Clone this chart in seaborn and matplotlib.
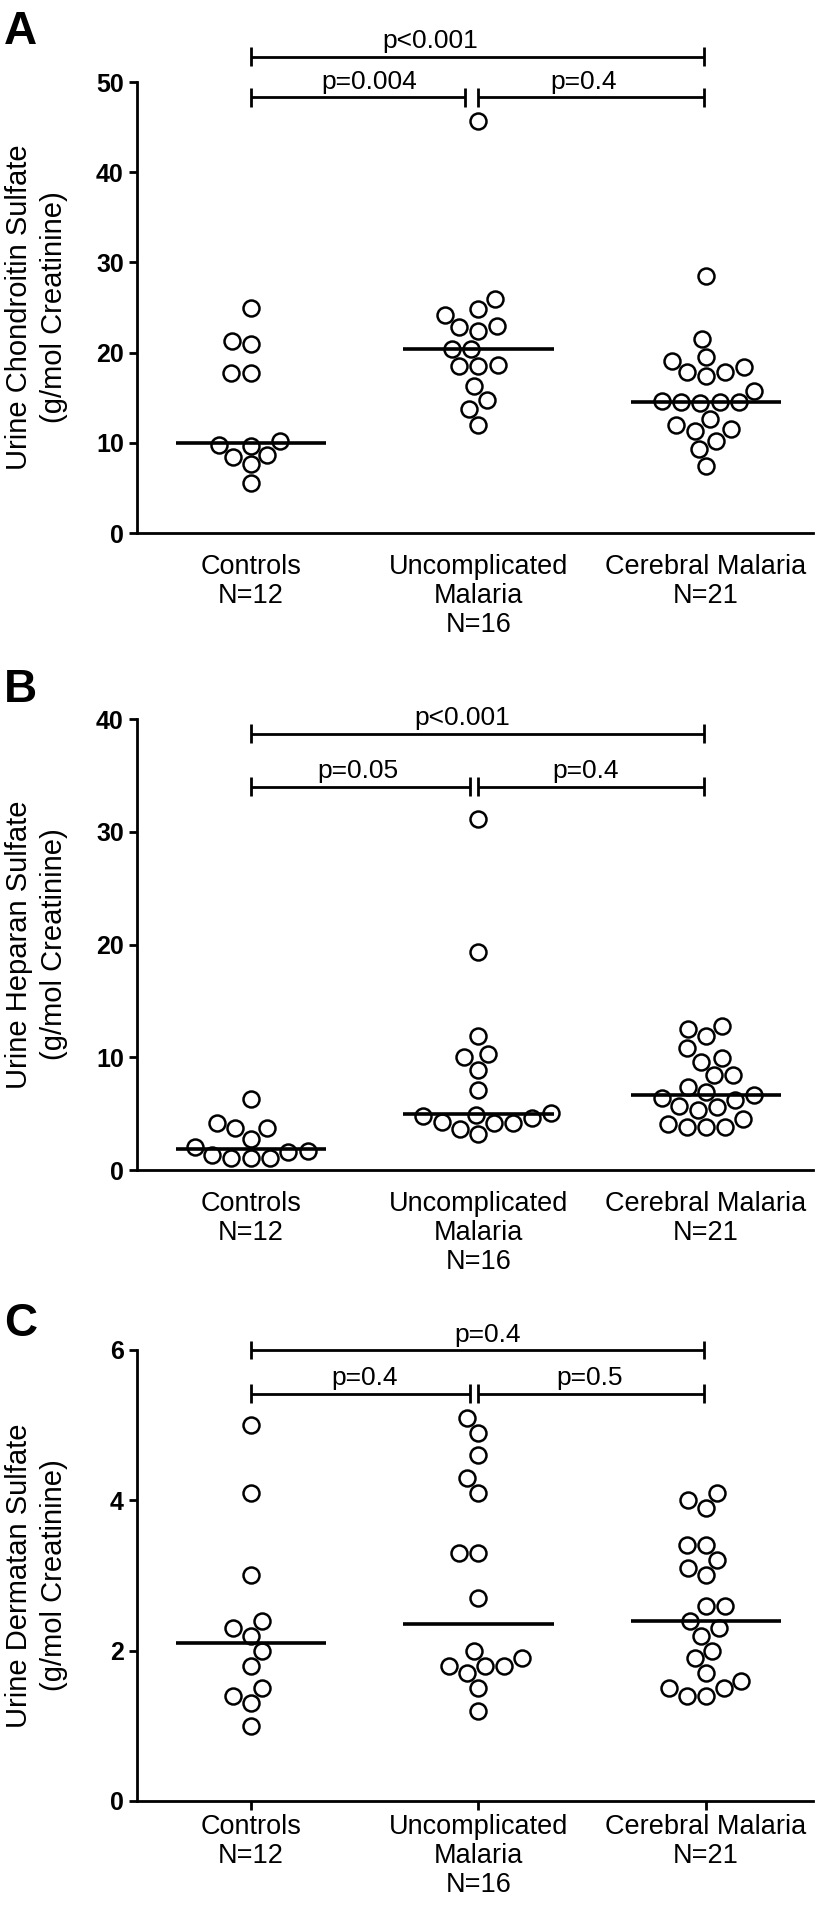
import numpy as np
import pandas as pd
import seaborn as sns
import matplotlib.pyplot as plt

sns.set_style("ticks")
plt.rcParams['font.family'] = ['Liberation Sans', 'DejaVu Sans']
for k in ["text.color", "axes.labelcolor", "xtick.color", "ytick.color", "axes.edgecolor"]:
    plt.rcParams[k] = "black"

groups = ["Controls", "Uncomplicated", "Cerebral Malaria"]
group_labels = ["Controls\nN=12", "Uncomplicated\nMalaria\nN=16", "Cerebral Malaria\nN=21"]

# A: chondroitin sulfate
ctrl_cs = [9.7, 8.7, 7.6, 8.4, 5.5, 9.8, 10.2, 17.7, 17.7, 21.0, 21.3, 25.0]
unc_cs = [45.7, 25.9, 22.8, 22.4, 24.2, 23.0, 24.8, 20.4, 20.4, 18.5, 18.5, 18.6, 16.3, 14.7, 13.8, 12.0]
cm_cs = [28.5, 21.5, 19.1, 18.4, 17.8, 17.4, 17.8, 19.5, 15.8, 14.5, 14.5, 14.6, 14.5, 14.4,
         11.5, 11.3, 12.0, 12.6, 10.2, 9.3, 7.4]

# B: heparan sulfate
ctrl_hs = [6.3, 3.7, 3.7, 4.2, 2.75, 1.6, 1.3, 1.05, 1.7, 2.05, 1.05, 1.05]
unc_hs = [31.1, 19.3, 11.9, 10.3, 10.0, 8.9, 7.1, 4.3, 4.2, 4.2, 4.6, 5.07, 4.9, 4.75, 3.6, 3.2]
cm_hs = [12.8, 12.5, 11.9, 10.8, 9.9, 9.6, 8.4, 8.45, 7.4, 6.9, 6.4, 6.7, 6.2, 5.7, 5.6, 5.3,
         4.5, 4.1, 3.8, 3.8, 3.8]

# C: dermatan sulfate
ctrl_ds = [5.0, 4.1, 3.0, 2.4, 2.3, 2.2, 2.0, 1.8, 1.5, 1.3, 1.4, 1.0]
unc_ds = [5.1, 4.9, 4.6, 4.3, 4.1, 3.3, 3.3, 2.7, 2.0, 1.9, 1.8, 1.8, 1.8, 1.7, 1.5, 1.2]
cm_ds = [4.1, 4.0, 3.9, 3.4, 3.4, 3.2, 3.1, 3.0, 2.6, 2.6, 2.4, 2.3, 2.2, 2.0, 1.9, 1.7,
         1.6, 1.5, 1.5, 1.4, 1.4]

p_top = ["p<0.001", "p<0.001", "p=0.4"]
p_left = ["p=0.004", "p=0.05", "p=0.4"]
p_right = ["p=0.4", "p=0.4", "p=0.5"]

ylabels = ["Urine Chondroitin Sulfate\n(g/mol Creatinine)",
           "Urine Heparan Sulfate\n(g/mol Creatinine)",
           "Urine Dermatan Sulfate\n(g/mol Creatinine)"]

panels = [
    dict(data=[ctrl_cs, unc_cs, cm_cs], ymax=50, step=10, ytop=52.8, ylow=48.3, cap=1.05,
         gap=0.94, tx=(0.79, 0.52, 1.46), bottom=0.7202, letter="A", ly=10, xticks=False),
    dict(data=[ctrl_hs, unc_hs, cm_hs], ymax=40, step=10, ytop=38.7, ylow=34.0, cap=0.84,
         gap=0.965, tx=(0.93, 0.47, 1.47), bottom=0.3858, letter="B", ly=668, xticks=False),
    dict(data=[ctrl_ds, unc_ds, cm_ds], ymax=6, step=2, ytop=6.0, ylow=5.42, cap=0.126,
         gap=0.965, tx=(1.04, 0.50, 1.49), bottom=0.0546, letter="C", ly=1302, xticks=True),
]

W, H = 820, 1905
fig = plt.figure(figsize=(W / 100, H / 100), dpi=100)


def bracket(ax, x0, x1, y, cap, label, tx):
    kw = dict(color="black", lw=2.0, clip_on=False, solid_capstyle="butt")
    ax.plot([x0, x1], [y, y], **kw)
    ax.plot([x0, x0], [y - cap, y + cap], **kw)
    ax.plot([x1, x1], [y - cap, y + cap], **kw)
    ax.annotate(label, (tx, y), xytext=(0, 2.5), textcoords="offset points",
                ha="center", va="bottom", fontsize=19, annotation_clip=False)


for i, p in enumerate(panels):
    ax = fig.add_axes([137 / W, p["bottom"], 676 / W, 451 / H])
    df = pd.DataFrame({
        "group": np.repeat(groups, [len(v) for v in p["data"]]),
        "value": np.concatenate(p["data"]),
    })
    sns.swarmplot(data=df, x="group", y="value", order=groups, ax=ax,
                  color="white", edgecolor="black", linewidth=1.8, size=11.5,
                  warn_thresh=1.0, zorder=3)
    meds = df.groupby("group")["value"].median().reindex(groups)
    for j, m in enumerate(meds):
        ax.plot([j - 0.33, j + 0.33], [m, m], color="black", lw=2.6, zorder=4,
                solid_capstyle="butt")

    ax.set_xlim(-0.5, 2.47)
    ax.set_ylim(0, p["ymax"])
    ax.set_yticks(np.arange(0, p["ymax"] + 0.1, p["step"]))
    ax.set_xticks(range(3))
    ax.set_xticklabels(group_labels, fontsize=19.5, linespacing=1.15)
    for t in ax.get_yticklabels():
        t.set_fontweight("bold")
        t.set_fontsize(18)
    ax.tick_params(axis="y", length=6, width=2, pad=3.5)
    if p["xticks"]:
        ax.tick_params(axis="x", length=6.5, width=2, pad=3)
    else:
        ax.tick_params(axis="x", length=0, pad=15)
    sns.despine(ax=ax)
    for s in ["left", "bottom"]:
        ax.spines[s].set_linewidth(2.0)
    ax.set_xlabel("")
    ax.set_ylabel(ylabels[i], fontsize=21, linespacing=1.3)
    ax.yaxis.set_label_coords(-0.102, 0.5)

    bracket(ax, 0.0, 1.99, p["ytop"], p["cap"], p_top[i], p["tx"][0])
    bracket(ax, 0.0, p["gap"], p["ylow"], p["cap"], p_left[i], p["tx"][1])
    bracket(ax, 1.0, 1.99, p["ylow"], p["cap"], p_right[i], p["tx"][2])

    fig.text(4 / W, 1 - p["ly"] / H, p["letter"], fontsize=33, fontweight="bold",
             ha="left", va="top")

fig.savefig("out.png", dpi=100)
